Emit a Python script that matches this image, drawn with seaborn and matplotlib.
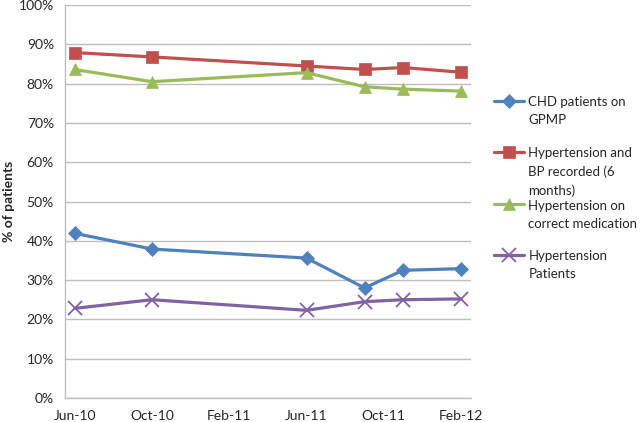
import pandas as pd
import matplotlib
matplotlib.use("Agg")
import matplotlib.pyplot as plt
import seaborn as sns

# Survey dates (month of audit) and the four indicators, % of patients
dates = ["2010-06", "2010-10", "2011-06", "2011-09", "2011-11", "2012-02"]
tick_labels = ["Jun-10", "Oct-10", "Feb-11", "Jun-11", "Oct-11", "Feb-12"]

chd_gpmp = [41.9, 37.9, 35.6, 28.0, 32.5, 32.9]
htn_bp = [87.9, 86.8, 84.5, 83.6, 84.1, 82.9]
htn_med = [83.6, 80.5, 82.8, 79.2, 78.6, 78.1]
htn_patients = [22.8, 25.0, 22.3, 24.5, 25.0, 25.2]

series_names = [
    "CHD patients on\nGPMP\n ",
    "Hypertension and\nBP recorded (6\nmonths)",
    "Hypertension on\ncorrect medication\n ",
    "Hypertension\nPatients\n ",
]

sns.set_style("white")
plt.rcParams["font.family"] = ["Lato", "DejaVu Sans"]

# month offset from Jun-10, like Excel's date axis with a month base unit
start = pd.Period("2010-06", freq="M")
months = [(pd.Period(d, freq="M") - start).n for d in dates]

colors = ["#4F81BD", "#C0504D", "#9BBB59", "#8064A2"]
markers = ["D", "s", "^", "x"]
sizes = [7, 9, 9, 10]
values = [chd_gpmp, htn_bp, htn_med, htn_patients]

fig = plt.figure(figsize=(6.44, 4.22), dpi=100)
ax = fig.add_axes([0.101, 0.057, 0.630, 0.931])

for name, vals, col, mk, ms in zip(series_names, values, colors, markers, sizes):
    sns.lineplot(
        x=months,
        y=vals,
        color=col,
        marker=mk,
        markersize=ms,
        markeredgecolor=col,
        markeredgewidth=1.3 if mk == "x" else 0.5,
        linewidth=2.3,
        label=name,
        ax=ax,
    )

grid_col = "#BEBEBE"
ax.set_xlim(-0.5, 20.5)
ax.set_ylim(0, 100)
ax.set_yticks(range(0, 101, 10))
ax.set_yticklabels([f"{v}%" for v in range(0, 101, 10)], fontsize=10)
ax.set_xticks([0, 4, 8, 12, 16, 20])
ax.set_xticklabels(tick_labels, fontsize=10)
ax.yaxis.grid(True, color=grid_col, linewidth=1)
ax.set_axisbelow(True)
ax.tick_params(axis="y", length=5, color=grid_col, width=1, pad=3)
ax.tick_params(axis="x", length=0, pad=8.5)
for s in ["top", "right"]:
    ax.spines[s].set_visible(False)
for s in ["left", "bottom"]:
    ax.spines[s].set_color(grid_col)
    ax.spines[s].set_linewidth(1)

ax.set_xlabel("")
ax.set_ylabel("% of patients", fontsize=10, fontweight="bold", labelpad=3)

leg = ax.legend(
    loc="upper left",
    bbox_to_anchor=(0.757, 0.787),
    bbox_transform=fig.transFigure,
    frameon=False,
    fontsize=9.5,
    handlelength=2.3,
    handletextpad=0.3,
    borderpad=0,
    labelspacing=0.2,
)
for t in leg.get_texts():
    t.set_linespacing(1.6)
# keep the handle on the first text line, as Excel does
for col in leg._legend_handle_box.get_children():
    for item in col.get_children():
        item.align = "top"

fig.savefig("out.png", dpi=100)
